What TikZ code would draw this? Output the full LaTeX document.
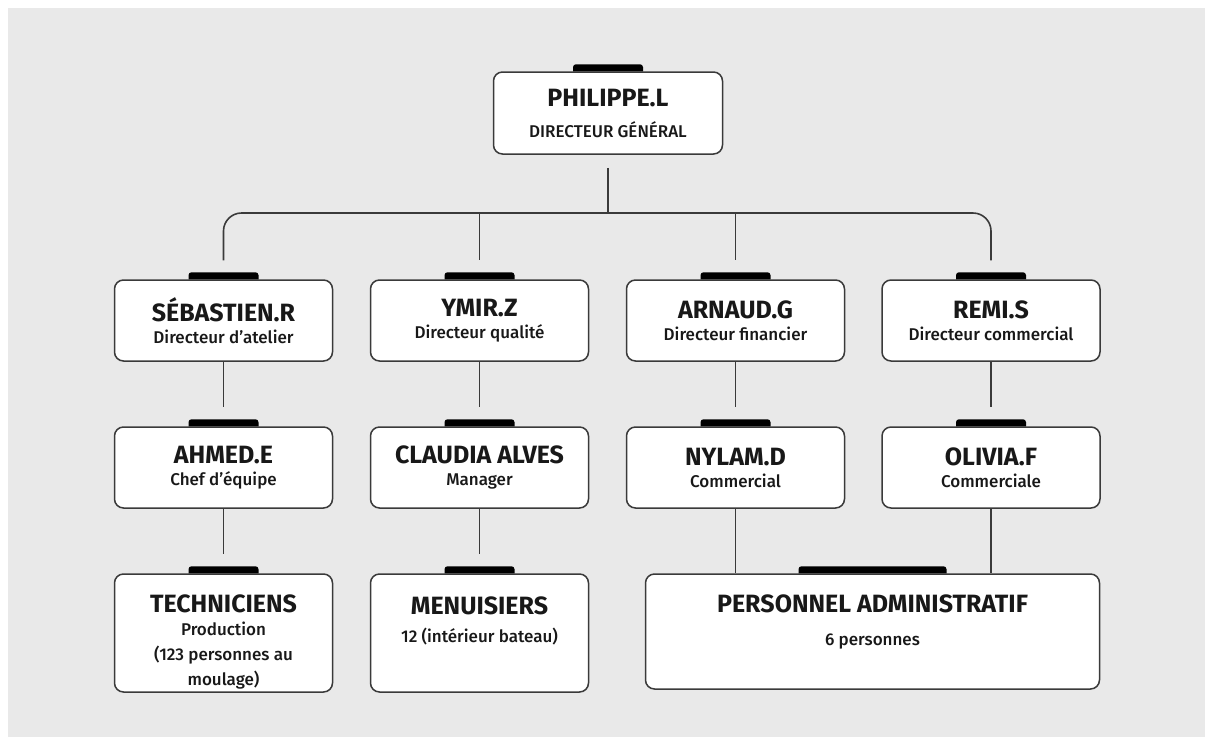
\documentclass[tikz,border=0pt]{standalone}
\usepackage{fontspec}
\setmainfont{Fira Sans}
\newfontfamily\medfont{Fira Sans Medium}
\definecolor{bggray}{RGB}{233,233,233}
\definecolor{linegray}{RGB}{58,58,58}
\definecolor{ink}{RGB}{24,24,24}
\newcommand{\who}[1]{{\bfseries\fontsize{25}{29}\selectfont #1}}
\newcommand{\what}[1]{{\medfont\fontsize{17}{23}\selectfont #1}}

\begin{document}
\begin{tikzpicture}[x=1pt, y=-1pt, color=ink,
  font=\fontsize{17}{23}\selectfont,
  box/.style={draw=linegray, line width=1.5pt, fill=white, rounded corners=9pt,
    minimum width=218pt, minimum height=81pt, align=center, inner sep=0pt},
  tab/.style={fill=black, rounded corners=3pt},
  branch/.style={draw=linegray, line width=1.6pt}]

\useasboundingbox (0,0) rectangle (1208,737);
\fill[bggray] (8,8) rectangle (1205,737);

%boxes
\node[box, minimum width=229pt, minimum height=82pt] at (608,113)(phil){\who{PHILIPPE.L}\\[8pt]\what{DIRECTEUR GÉNÉRAL}};

\node[box] at (223.5,320.5)(seb){\who{SÉBASTIEN.R}\\[-1pt]\what{Directeur d’atelier}};
\node[box] at (479.5,320.5)(ymir){\who{YMIR.Z}\\[-1pt]\what{Directeur qualité}};
\node[box] at (735.5,320.5)(arnaud){\who{ARNAUD.G}\\[-1pt]\what{Directeur financier}};
\node[box] at (991,320.5)(remi){\who{REMI.S}\\[-1pt]\what{Directeur commercial}};

\node[box] at (223.5,467.5)(ahmed){\who{AHMED.E}\\[-1pt]\what{Chef d’équipe}};
\node[box] at (479.5,467.5)(claudia){\who{CLAUDIA ALVES}\\[-1pt]\what{Manager}};
\node[box] at (735.5,467.5)(nylam){\who{NYLAM.D}\\[-1pt]\what{Commercial}};
\node[box] at (991,467.5)(olivia){\who{OLIVIA.F}\\[-1pt]\what{Commerciale}};

\node[box, minimum height=118pt] at (223.5,633)(tech){};
\node[box, minimum height=118pt] at (479.5,633)(menu){};
\node[box, minimum width=454pt, minimum height=115pt] at (872.5,631.5)(admin){};

%box texts
\node[anchor=north, align=center, inner sep=0pt] at ([yshift=-21pt]tech.north)(techtxt)
  {\who{TECHNICIENS}\\\what{Production}\\[2pt]\what{(123 personnes au}\\[2pt]\what{moulage)}};
\node[anchor=north, align=center, inner sep=0pt] at ([yshift=-23pt]menu.north)(menutxt)
  {\who{MENUISIERS}\\[5pt]\what{12 (intérieur bateau)}};
\node[anchor=north, align=center, inner sep=0pt] at ([yshift=-21pt]admin.north)(admintxt)
  {\who{PERSONNEL ADMINISTRATIF}\\[10pt]\what{6 personnes}};

%tabs
\foreach \b in {phil,seb,ymir,arnaud,remi,ahmed,claudia,nylam,olivia,tech,menu}
  \fill[tab] ([xshift=-35pt]\b.north) -- ++(0,-7) -- ++(70,0) -- ++(0,7);
\fill[tab] ([xshift=-74pt]admin.north) -- ++(0,-7) -- ++(148,0) -- ++(0,7);

%branches
\coordinate (split) at (608,213);
\draw[branch] ([yshift=-13pt]phil.south) -- (split);
\draw[branch, rounded corners=18pt] ([yshift=19pt]seb.north) |- (split) -| ([yshift=19pt]remi.north);
\draw[branch] (ymir.north |- split) -- ([yshift=19pt]ymir.north);
\draw[branch] (arnaud.north |- split) -- ([yshift=19pt]arnaud.north);

\draw[branch] (seb.south) -- ([yshift=19pt]ahmed.north);
\draw[branch] (ymir.south) -- ([yshift=19pt]claudia.north);
\draw[branch] (arnaud.south) -- ([yshift=19pt]nylam.north);
\draw[branch] (remi.south) -- ([yshift=19pt]olivia.north);

\draw[branch] (ahmed.south) -- ([yshift=19pt]tech.north);
\draw[branch] (claudia.south) -- ([yshift=19pt]menu.north);
\draw[branch] (nylam.south) -- (nylam.south |- admin.north);
\draw[branch] (olivia.south) -- (olivia.south |- admin.north);

\end{tikzpicture}
\end{document}
